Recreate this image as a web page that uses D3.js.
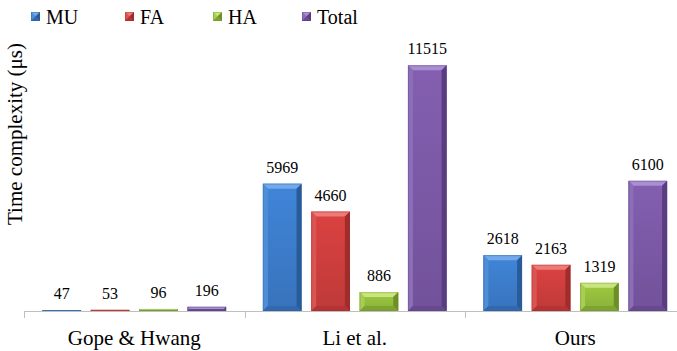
<!DOCTYPE html>
<html>
<head>
<meta charset="utf-8">
<script src="https://cdn.jsdelivr.net/npm/d3@7"></script>
</head>
<body style="margin:0; background:#fff">
<svg id="chart" width="677" height="351"></svg>
<script>
var width = 677;
var height = 351;
var font = "Liberation Serif";

var groups = ["Gope & Hwang", "Li et al.", "Ours"];
var series = ["MU", "FA", "HA", "Total"];
var valuesMU = [47, 5969, 2618];
var valuesFA = [53, 4660, 2163];
var valuesHA = [96, 886, 1319];
var valuesTotal = [196, 11515, 6100];
var yTitle = "Time complexity (\u03bcs)";

var seriesValues = [valuesMU, valuesFA, valuesHA, valuesTotal];

// base / light / dark shades for the bevelled bars
var colors = {
    MU: ["#3d7ecd", "#72a9ea", "#2a5b99"],
    FA: ["#d03f3e", "#ec7b78", "#a02c2b"],
    HA: ["#96c03e", "#c8e57f", "#6d8f27"],
    Total: ["#7d5aa8", "#a98fd2", "#5a3d80"]
};

var baseY = 311;

var x0 = d3.scaleBand()
    .domain(groups)
    .range([24, 24 + 3 * 220.5])
    .paddingInner(0)
    .paddingOuter(0);

var x1 = d3.scaleBand()
    .domain(series)
    .range([0, x0.bandwidth()])
    .paddingInner(0.2)
    .paddingOuter(0.38);

var y = d3.scaleLinear()
    .domain([0, 12000])
    .range([baseY, 55]);

var svg = d3.select("#chart");

var defs = svg.append("defs");
series.forEach(function (s) {
    var g = defs.append("linearGradient")
        .attr("id", "face-" + s)
        .attr("x1", "0%").attr("y1", "0%")
        .attr("x2", "0%").attr("y2", "100%");
    g.append("stop").attr("offset", "0%").attr("stop-color", d3.color(colors[s][0]).brighter(0.15));
    g.append("stop").attr("offset", "100%").attr("stop-color", d3.color(colors[s][0]).darker(0.25));
});

// x axis
var axis = svg.append("g").attr("class", "x axis");
axis.append("line")
    .attr("x1", x0.range()[0]).attr("x2", width)
    .attr("y1", baseY + 0.5).attr("y2", baseY + 0.5)
    .style("stroke", "#bfbfbf");
axis.selectAll(".tick")
    .data(groups)
    .enter()
    .append("line")
    .attr("x1", function (d) { return Math.round(x0(d)) + 0.5; })
    .attr("x2", function (d) { return Math.round(x0(d)) + 0.5; })
    .attr("y1", baseY)
    .attr("y2", baseY + 7)
    .style("stroke", "#bfbfbf");
axis.selectAll(".label")
    .data(groups)
    .enter()
    .append("text")
    .attr("x", function (d) { return x0(d) + x0.bandwidth() / 2; })
    .attr("y", 345)
    .attr("text-anchor", "middle")
    .attr("font-family", font)
    .attr("font-size", 21)
    .text(function (d) { return d; });

// bars
function bevelBar(g, s, x, top, w, h) {
    var c = colors[s];
    var b = Math.min(5, h / 2);
    g.append("rect")
        .attr("x", x).attr("y", top)
        .attr("width", w).attr("height", h)
        .style("fill", "url(#face-" + s + ")");
    // top bevel
    g.append("polygon")
        .attr("points", [[x, top], [x + w, top], [x + w - b, top + b], [x + b, top + b]].join(" "))
        .style("fill", c[1]);
    // left bevel
    g.append("polygon")
        .attr("points", [[x, top], [x + b, top + b], [x + b, top + h - b], [x, top + h]].join(" "))
        .style("fill", d3.interpolateRgb(c[0], c[1])(0.35));
    // right bevel
    g.append("polygon")
        .attr("points", [[x + w, top], [x + w, top + h], [x + w - b, top + h - b], [x + w - b, top + b]].join(" "))
        .style("fill", c[2]);
    // bottom bevel
    g.append("polygon")
        .attr("points", [[x, top + h], [x + w, top + h], [x + w - b, top + h - b], [x + b, top + h - b]].join(" "))
        .style("fill", d3.interpolateRgb(c[0], c[2])(0.6));
    g.append("rect")
        .attr("x", x + 0.5).attr("y", top + 0.5)
        .attr("width", Math.max(0, w - 1)).attr("height", Math.max(0, h - 1))
        .style("fill", "none")
        .style("stroke", c[2])
        .style("stroke-opacity", 0.35);
}

var bars = svg.append("g").attr("class", "bars");
groups.forEach(function (grp, gi) {
    series.forEach(function (s, si) {
        var v = seriesValues[si][gi];
        var x = x0(grp) + x1(s);
        var top = y(v);
        var h = baseY - top;
        var g = bars.append("g");
        bevelBar(g, s, x, top, x1.bandwidth(), h);
        g.append("text")
            .attr("x", x + x1.bandwidth() / 2)
            .attr("y", top - 11)
            .attr("text-anchor", "middle")
            .attr("font-family", font)
            .attr("font-size", 16)
            .text(v);
    });
});

// y title
svg.append("text")
    .attr("transform", "translate(22,134) rotate(-90)")
    .attr("text-anchor", "middle")
    .attr("font-family", font)
    .attr("font-size", 21)
    .text(yTitle);

// legend
var legendX = [31, 125, 213, 302];
var legend = svg.append("g").attr("class", "legend");
series.forEach(function (s, i) {
    var g = legend.append("g").attr("transform", "translate(" + legendX[i] + ",12)");
    bevelBar(g, s, 0, 0, 9, 9);
    g.append("text")
        .attr("x", 15)
        .attr("y", 12)
        .attr("font-family", font)
        .attr("font-size", 20)
        .text(s);
});
</script>
</body>
</html>
